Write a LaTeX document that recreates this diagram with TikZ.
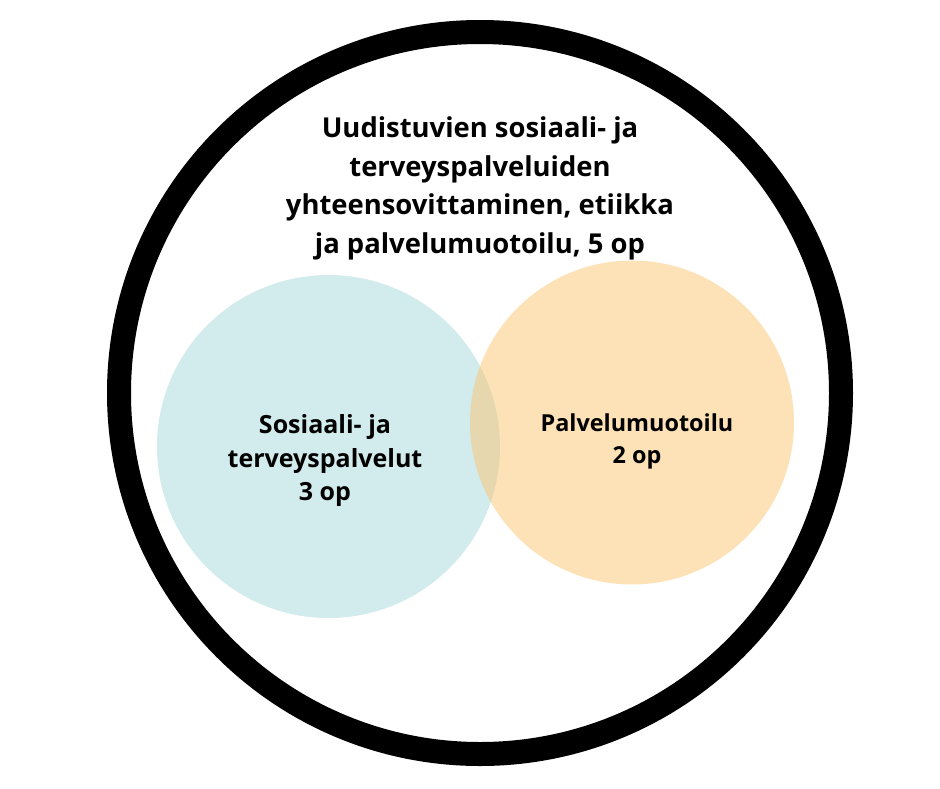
\documentclass[tikz,border=0pt]{standalone}
\usepackage{fontspec}
\setmainfont{Open Sans}
\usetikzlibrary{positioning}
\definecolor{socblue}{RGB}{210,235,236}
\definecolor{designorange}{RGB}{251,197,113}

\begin{document}
\begin{tikzpicture}[x=1pt,y=-1pt,
    ring/.style={circle,draw=black,line width=24pt,minimum size=722pt,inner sep=0pt},
    blob/.style={circle,inner sep=0pt},
    txt/.style={align=center,inner sep=0pt,font=\bfseries\fontsize{25}{33.5}\selectfont}]
  \useasboundingbox (0,0) rectangle (940,788);
  \node[ring] (outer) at (480,393) {};
  \node[blob,fill=socblue,minimum size=343pt] (soc) at (328.5,446.5) {};
  \node[blob,fill=designorange,fill opacity=0.5,minimum size=324pt] (design) at (632,422.5) {};
  % course title
  \node[txt,font=\bfseries\fontsize{27.4}{38.5}\selectfont] (title) at (480,188.5)
    {Uudistuvien sosiaali- ja\\terveyspalveluiden\\yhteensovittaminen, etiikka\\ja palvelumuotoilu, 5 op};
  \node[txt] (soctxt) at (325,460.5) {Sosiaali- ja\\terveyspalvelut\\3 op};
  \node[txt,font=\bfseries\fontsize{23.4}{31.5}\selectfont] (designtxt) at (637,441.5) {Palvelumuotoilu\\2 op};
\end{tikzpicture}
\end{document}
